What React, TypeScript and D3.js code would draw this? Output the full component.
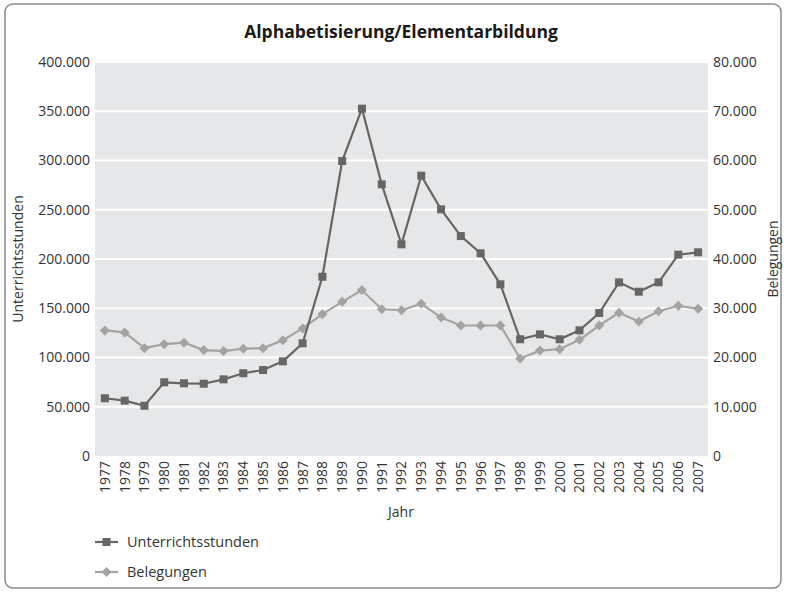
import React from "react";
import * as d3 from "d3";

const years = d3.range(1977, 2008).map(String);
const unterricht = [58600, 56200, 51000, 74800, 73800, 73400, 77800, 84000, 87300, 96100, 114400, 182000, 299500, 352600, 275800, 214900, 284600, 250400, 223300, 205800, 174300, 118500, 123500, 118500, 127600, 145200, 176300, 166800, 176300, 204400, 206800];
const belegungen = [25500, 25100, 21900, 22700, 23000, 21500, 21300, 21800, 21900, 23500, 25900, 28800, 31300, 33700, 29800, 29600, 30900, 28100, 26500, 26500, 26500, 19800, 21400, 21700, 23600, 26500, 29100, 27300, 29400, 30500, 29900];
const leftTicks = [0, 50000, 100000, 150000, 200000, 250000, 300000, 350000, 400000];
const rightTicks = [0, 10000, 20000, 30000, 40000, 50000, 60000, 70000, 80000];

const W = 786, H = 592;
const M = { left: 95, right: 708, top: 62, bottom: 456 };
const FONT = "'Open Sans', sans-serif";
const DARK = "#666666";
const LIGHT = "#a3a3a3";

const fmt = (v: number) => (v === 0 ? "0" : d3.format(",")(v).replace(/,/g, "."));

export default function App() {
  const x = d3.scaleBand<string>().domain(years).range([M.left, M.right]);
  const cx = (y: string) => (x(y) as number) + x.bandwidth() / 2;
  const yL = d3.scaleLinear().domain([0, 400000]).range([M.bottom, M.top]);
  const yR = d3.scaleLinear().domain([0, 80000]).range([M.bottom, M.top]);
  const lineL = d3.line<number>().x((_, i) => cx(years[i])).y((v) => yL(v));
  const lineR = d3.line<number>().x((_, i) => cx(years[i])).y((v) => yR(v));
  const sq = 8;
  const dm = 5;
  const diamond = (px: number, py: number) => `M${px},${py - dm} L${px + dm},${py} L${px},${py + dm} L${px - dm},${py} Z`;

  return (
    <svg width={W} height={H} style={{ position: "absolute", left: 0, top: 0 }} fontFamily={FONT}>
      <rect x={5} y={4} width={776} height={584} rx={8} fill="#fff" stroke="#8a8a8a" strokeWidth={1.5} />
      <text x={401} y={38} textAnchor="middle" fontSize={17.5} fontWeight="bold" fill="#1a1a1a">Alphabetisierung/Elementarbildung</text>
      <rect x={M.left} y={M.top} width={M.right - M.left} height={M.bottom - M.top} fill="#e6e7e8" />
      {leftTicks.filter((t) => t > 0).map((t) => (
        <line key={t} x1={M.left} x2={M.right} y1={yL(t)} y2={yL(t)} stroke="#fff" strokeWidth={2} />
      ))}
      {leftTicks.map((t) => (
        <text key={"l" + t} x={90} y={yL(t)} dy="0.35em" textAnchor="end" fontSize={14} fill="#333">{fmt(t)}</text>
      ))}
      {rightTicks.map((t) => (
        <text key={"r" + t} x={713} y={yR(t)} dy="0.35em" textAnchor="start" fontSize={14} fill="#333">{fmt(t)}</text>
      ))}
      {years.map((yr) => (
        <text key={yr} transform={`translate(${cx(yr)},461) rotate(-90)`} dy="0.35em" textAnchor="end" fontSize={14} fill="#333">{yr}</text>
      ))}
      <text x={401} y={517} textAnchor="middle" fontSize={14} fill="#333">Jahr</text>
      <text transform={`translate(18,259) rotate(-90)`} textAnchor="middle" dy="0.35em" fontSize={14} fill="#333">Unterrichtsstunden</text>
      <text transform={`translate(773,259) rotate(-90)`} textAnchor="middle" dy="0.35em" fontSize={14} fill="#333">Belegungen</text>

      <path d={lineR(belegungen) || ""} fill="none" stroke={LIGHT} strokeWidth={2.2} />
      {belegungen.map((v, i) => (
        <path key={"b" + i} d={diamond(cx(years[i]), yR(v))} fill={LIGHT} />
      ))}
      <path d={lineL(unterricht) || ""} fill="none" stroke={DARK} strokeWidth={2.2} />
      {unterricht.map((v, i) => (
        <rect key={"u" + i} x={cx(years[i]) - sq / 2} y={yL(v) - sq / 2} width={sq} height={sq} fill={DARK} />
      ))}

      <line x1={95} x2={118} y1={542} y2={542} stroke={DARK} strokeWidth={2.2} />
      <rect x={106.5 - sq / 2} y={542 - sq / 2} width={sq} height={sq} fill={DARK} />
      <text x={127} y={542} dy="0.35em" fontSize={14.5} fill="#333">Unterrichtsstunden</text>
      <line x1={95} x2={118} y1={572} y2={572} stroke={LIGHT} strokeWidth={2.2} />
      <path d={diamond(106.5, 572)} fill={LIGHT} />
      <text x={127} y={572} dy="0.35em" fontSize={14.5} fill="#333">Belegungen</text>
    </svg>
  );
}
